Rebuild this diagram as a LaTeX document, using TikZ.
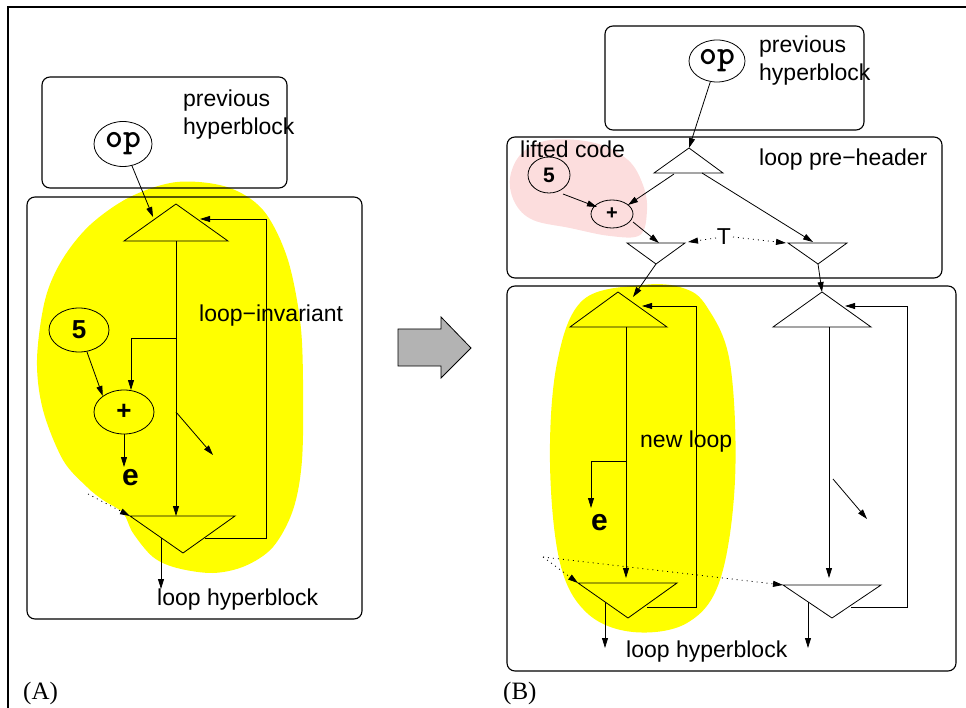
\documentclass[tikz,border=0pt]{standalone}
\usepackage{fontspec}
\setmainfont{Liberation Sans}
\newfontfamily\serifL{Liberation Serif}
\newcommand\opfont{\ttfamily\bfseries\addfontfeature{FakeBold=2}\fontsize{34}{34}\selectfont}
\usetikzlibrary{arrows.meta,shapes.geometric}
\definecolor{blobyellow}{RGB}{255,255,0}
\definecolor{blobpink}{RGB}{252,221,221}
\definecolor{arrowgray}{RGB}{179,179,179}
\tikzset{
  hbox/.style={draw, rounded corners=8pt, line width=1.1pt},
  edge/.style={line width=0.8pt, -{Triangle[length=10pt,width=6pt]}},
  dotedge/.style={line width=0.8pt, dash pattern=on 1pt off 4pt, -{Triangle[length=10pt,width=6pt]}},
  tri/.style={draw, line width=0.8pt},
  oval/.style={draw, ellipse, line width=0.8pt, inner sep=0pt},
  lbl/.style={anchor=base west, inner sep=0pt, font=\fontsize{23}{26}\selectfont},
}
\begin{document}
\begin{tikzpicture}[x=1pt,y=-1pt]
\useasboundingbox (0,0) rectangle (966,708);
% outer frame
\draw[line width=2pt] (966,7) -- (8,7) -- (8,708);

% ================= (A) =================
\fill[blobyellow] plot[smooth cycle, tension=0.55] coordinates {
 (177,182) (227,187) (263,210) (287,257) (300,320) (303,380) (302,460)
 (293,510) (273,547) (245,566) (213,573) (177,568) (153,557) (133,533)
 (123,513) (103,500) (87,487) (63,460) (43,410) (37,360) (45,300)
 (62,260) (90,225) (130,197)};
\draw[hbox] (42,77) rectangle (287,188);
\draw[hbox] (27,197) rectangle (362,619);

\node[lbl] (prevA1) at (183,107) {previous};
\node[lbl] (prevA2) at (183,135) {hyperblock};
\node[lbl] (invA) at (199,322) {loop−invariant};
\node[lbl] (lhA) at (157,605) {loop hyperblock};

\node[oval, minimum width=58pt, minimum height=45pt] (opA) at (123,144) {\opfont op};
\node[oval, minimum width=60pt, minimum height=44pt] (fiveA) at (79,330) {\bfseries\fontsize{26}{26}\selectfont 5};
\node[oval, minimum width=60pt, minimum height=44pt] (plusA) at (124,412) {\bfseries\fontsize{26}{26}\selectfont +};
\node[anchor=base west, inner sep=0pt] (eA) at (122,485) {\bfseries\fontsize{30}{30}\selectfont e};

% triangles A
\coordinate (tAap) at (176,204); \coordinate (tAl) at (124,241); \coordinate (tAr) at (228,241);
\draw[tri] (tAap) -- (tAl) -- (tAr) -- cycle;
\coordinate (bAl) at (130,516); \coordinate (bAr) at (235,516); \coordinate (bAap) at (183,553);
\draw[tri] (bAl) -- (bAr) -- (bAap) -- cycle;

% connectors A
\coordinate (inA) at (153,217);
\draw[edge] (opA) -- (inA);
\coordinate (fbA1) at (205,538); \coordinate (fbA2) at (266,538); \coordinate (fbA3) at (200,219);
\draw[edge] (fbA1) -- (fbA2) |- (fbA3);
\coordinate (vAs) at (176,241); \coordinate (vAe) at (176,516);
\draw[edge] (vAs) -- (vAe);
\coordinate (brA) at (176,338); \coordinate (brAe) at (131,390);
\draw[edge] (brA) -| (brAe);
\draw[edge] (fiveA.-70) -- (plusA.143);
\coordinate (eAt) at (124,467);
\draw[edge] (plusA.south) -- (eAt);
\coordinate (dgA1) at (176,412); \coordinate (dgA2) at (213,455);
\draw[edge] (dgA1) -- (dgA2);
\coordinate (dtA1) at (88,494);
\draw[dotedge] (dtA1) -- (bAl);
\coordinate (exA1) at (161,538); \coordinate (exA2) at (161,589);
\draw[edge] (exA1) -- (exA2);

\node[anchor=base west, inner sep=0pt, font=\serifL\fontsize{25}{28}\selectfont] (labA) at (23,699) {(A)};

% ================= big arrow =================
\draw[fill=arrowgray, line width=0.8pt] (398,329) -- (441,329) -- (441,317) -- (471,348) -- (441,378) -- (441,366) -- (398,366) -- cycle;

% ================= (B) =================
\fill[blobpink] plot[smooth cycle, tension=0.6] coordinates {
 (550,140) (595,143) (628,160) (643,185) (647,210) (640,235) (610,236)
 (570,228) (533,220) (515,203) (510,178) (522,153)};
\fill[blobyellow] plot[smooth cycle, tension=0.6] coordinates {
 (643,285) (683,288) (707,307) (730,363) (735,480) (720,580) (687,623)
 (633,632) (587,613) (560,563) (550,463) (557,363) (583,300)};

\draw[hbox] (605,26) rectangle (864,130);
\draw[hbox] (507,137) rectangle (942,278);
\draw[hbox] (507,286) rectangle (956,671);

\node[lbl] (prevB1) at (759,53) {previous};
\node[lbl] (prevB2) at (759,81) {hyperblock};
\node[lbl] (lifted) at (520,158) {lifted code};
\node[lbl] (preh) at (759,166) {loop pre−header};
\node[lbl] (newl) at (640,447) {new loop};
\node[lbl] (lhB) at (626,657) {loop hyperblock};
\node[anchor=base, inner sep=0pt, font=\fontsize{23}{26}\selectfont] (Tl) at (724,245) {T};

\node[oval, minimum width=56pt, minimum height=42pt] (opB) at (717,61) {\opfont op};
\node[oval, minimum width=42pt, minimum height=36pt] (fiveB) at (549,175) {\bfseries\fontsize{21}{21}\selectfont 5};
\node[oval, minimum width=42pt, minimum height=28pt] (plusB) at (612,214) {\bfseries\fontsize{20}{20}\selectfont +};
\node[anchor=base west, inner sep=0pt] (eB) at (591,530) {\bfseries\fontsize{30}{30}\selectfont e};

% triangles B
\coordinate (phAp) at (689,148); \coordinate (phL) at (654,173); \coordinate (phR) at (723,173);
\draw[tri] (phAp) -- (phL) -- (phR) -- cycle;
\coordinate (slL) at (627,243); \coordinate (slR) at (685,243); \coordinate (slAp) at (656,264);
\draw[tri] (slL) -- (slR) -- (slAp) -- cycle;
\coordinate (srL) at (788,243); \coordinate (srR) at (847,243); \coordinate (srAp) at (818,264);
\draw[tri] (srL) -- (srR) -- (srAp) -- cycle;
\coordinate (nlAp) at (618,292); \coordinate (nlL) at (570,327); \coordinate (nlR) at (667,327);
\draw[tri] (nlAp) -- (nlL) -- (nlR) -- cycle;
\coordinate (rlAp) at (822,292); \coordinate (rlL) at (773,327); \coordinate (rlR) at (871,327);
\draw[tri] (rlAp) -- (rlL) -- (rlR) -- cycle;
\coordinate (nbL) at (578,583); \coordinate (nbR) at (677,583); \coordinate (nbAp) at (628,618);
\draw[tri] (nbL) -- (nbR) -- (nbAp) -- cycle;
\coordinate (rbL) at (783,585); \coordinate (rbR) at (881,585); \coordinate (rbAp) at (832,618);
\draw[tri] (rbL) -- (rbR) -- (rbAp) -- cycle;

% connectors B
\draw[edge] (opB) -- (phAp);
\coordinate (ph1) at (674,174); \coordinate (ph1e) at (628,205);
\draw[edge] (ph1) -- (ph1e);
\coordinate (f5s) at (563,194); \coordinate (f5e) at (597,207);
\draw[edge] (f5s) -- (f5e);
\coordinate (pls) at (633,222); \coordinate (ple) at (659,243);
\draw[edge] (pls) -- (ple);
\coordinate (ph2) at (702,173); \coordinate (ph2e) at (813,242);
\draw[edge] (ph2) -- (ph2e);
\coordinate (T1s) at (716,238); \coordinate (T1e) at (688,242);
\draw[dotedge] (T1s) -- (T1e);
\coordinate (T2s) at (733,237); \coordinate (T2e) at (786,243);
\draw[dotedge] (T2s) -- (T2e);
\coordinate (nlin) at (633,297);
\draw[edge] (slAp) -- (nlin);
\draw[edge] (srAp) -- (rlAp);
% new loop
\coordinate (nf1) at (647,607); \coordinate (nf2) at (696,607); \coordinate (nf3) at (642,306);
\draw[edge] (nf1) -- (nf2) |- (nf3);
\coordinate (nv1) at (626,327); \coordinate (nv2) at (626,578);
\draw[edge] (nv1) -- (nv2);
\coordinate (nbr) at (626,461); \coordinate (nbre) at (591,508);
\draw[edge] (nbr) -| (nbre);
\coordinate (nx1) at (605,602); \coordinate (nx2) at (605,648);
\draw[edge] (nx1) -- (nx2);
% right loop
\coordinate (rf1) at (851,607); \coordinate (rf2) at (907,607); \coordinate (rf3) at (845,306);
\draw[edge] (rf1) -- (rf2) |- (rf3);
\coordinate (rv1) at (829,327); \coordinate (rv2) at (829,578);
\draw[edge] (rv1) -- (rv2);
\coordinate (rd1) at (833,479); \coordinate (rd2) at (867,519);
\draw[edge] (rd1) -- (rd2);
\coordinate (rx1) at (808,602); \coordinate (rx2) at (808,648);
\draw[edge] (rx1) -- (rx2);
% dotted
\coordinate (dB) at (543,557);
\draw[dotedge] (dB) -- (nbL);
\draw[dotedge] (dB) -- (rbL);

\node[anchor=base west, inner sep=0pt, font=\serifL\fontsize{25}{28}\selectfont] (labB) at (503,699) {(B)};
\end{tikzpicture}
\end{document}
